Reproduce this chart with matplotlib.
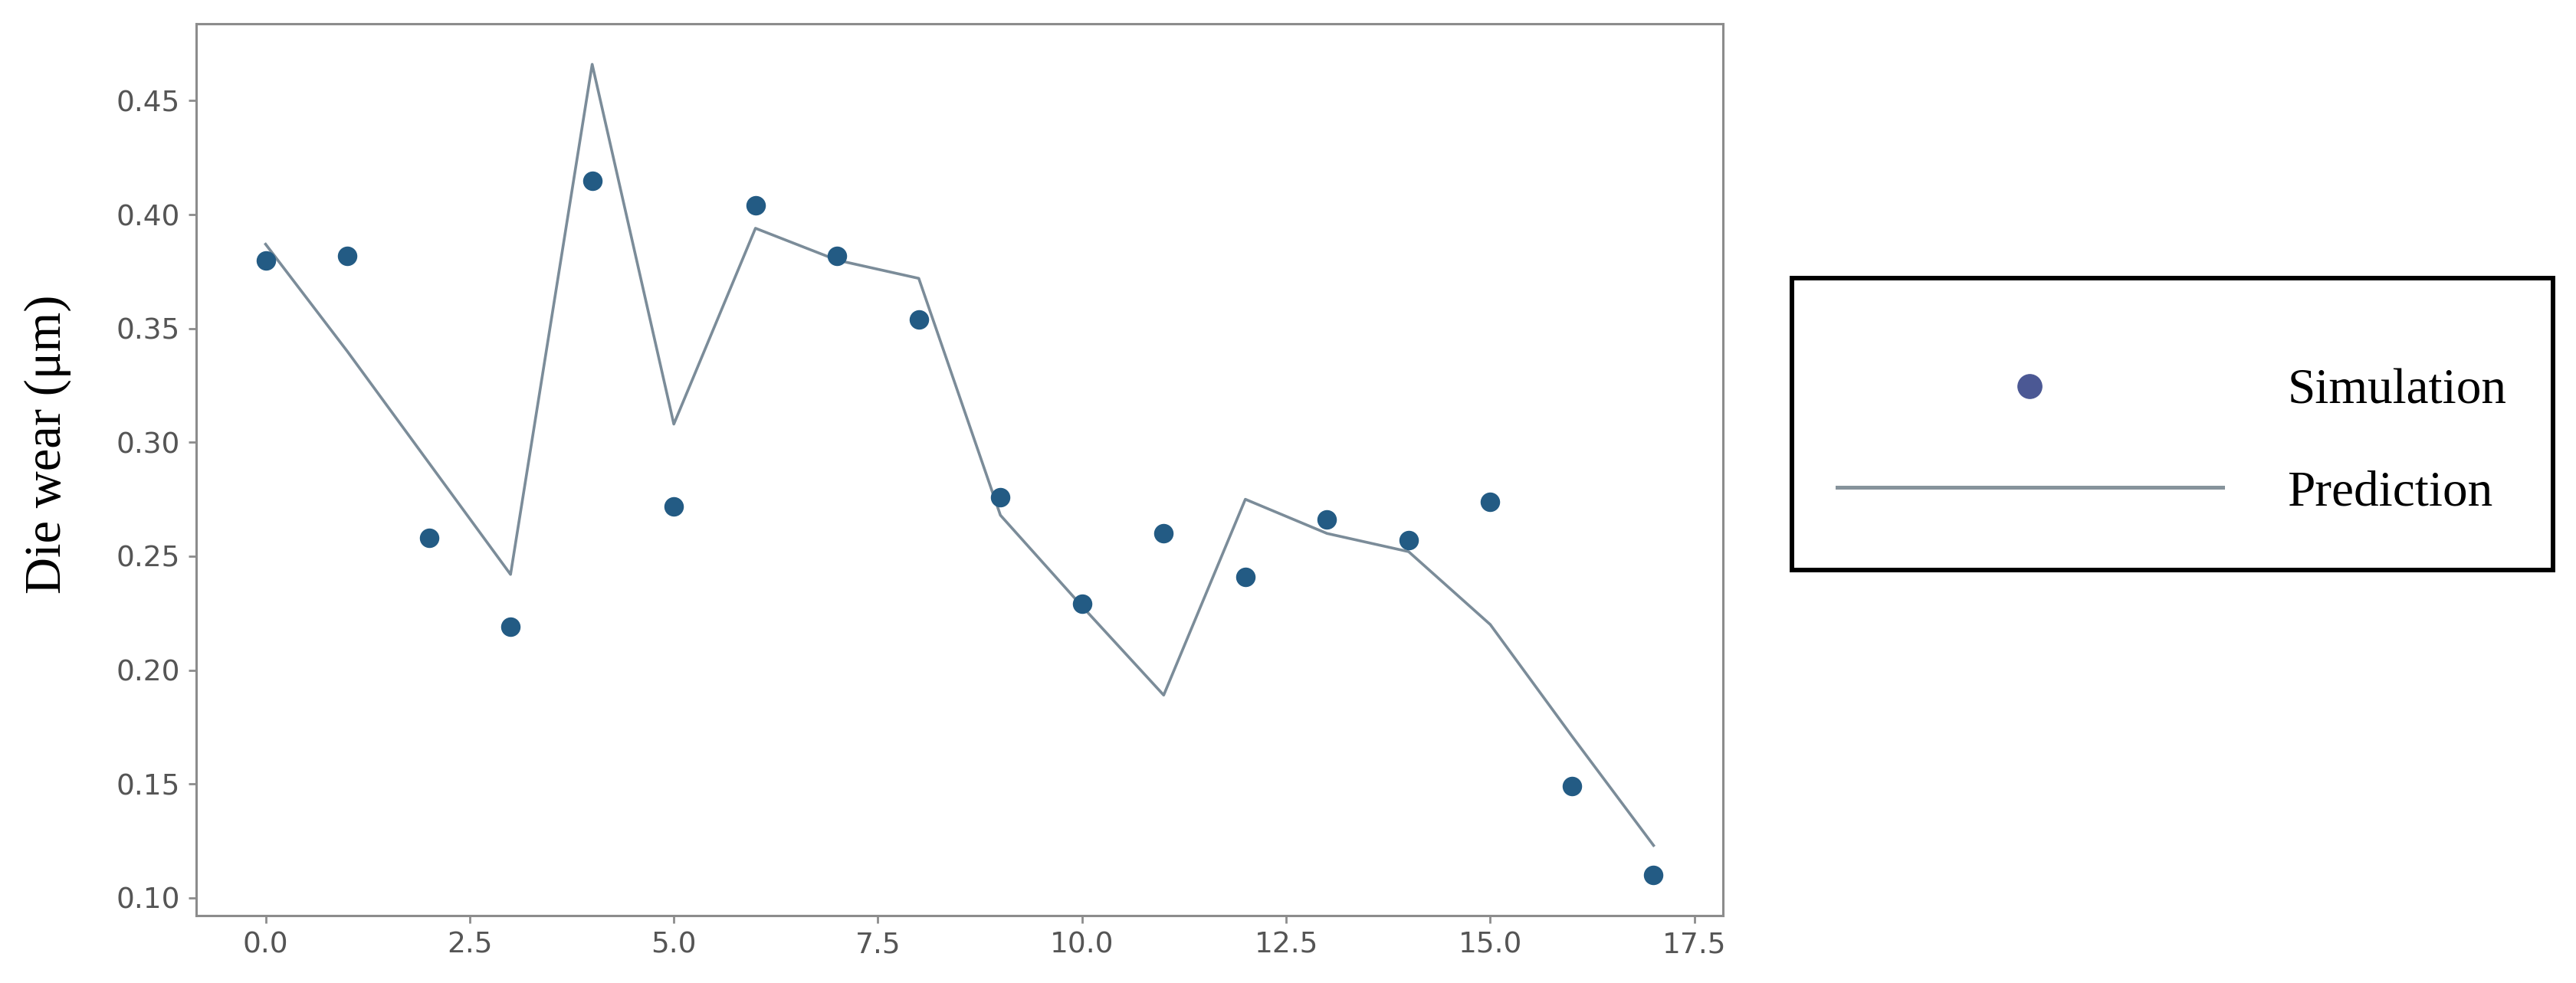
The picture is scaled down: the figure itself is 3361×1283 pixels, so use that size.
import numpy as np
import matplotlib
matplotlib.use("Agg")
import matplotlib.pyplot as plt
from matplotlib.patches import Rectangle

# values
sample = np.arange(18)
simulation = [0.380, 0.382, 0.258, 0.219, 0.415, 0.272, 0.404, 0.382, 0.354,
              0.276, 0.229, 0.260, 0.241, 0.266, 0.257, 0.274, 0.149, 0.110]
prediction = [0.387, 0.340, 0.291, 0.242, 0.466, 0.308, 0.394, 0.380, 0.372,
              0.268, 0.228, 0.189, 0.275, 0.260, 0.252, 0.220, 0.171, 0.123]
labels = ["Simulation", "Prediction"]
ylabel = "Die wear (\u03bcm)"

W, H = 3361, 1283
fig = plt.figure(figsize=(W / 100, H / 100), dpi=100)
ax = fig.add_axes([256 / W, 1 - 1195 / H, (2248 - 256) / W, (1195 - 31) / H])

sc = ax.scatter(sample, simulation, s=300, color="#235b84", zorder=3, label=labels[0])
ln, = ax.plot(sample, prediction, color="#7b8c99", lw=2.6, zorder=2, label=labels[1])

for side in ax.spines.values():
    side.set_color("#8c8c8c")
    side.set_linewidth(2.2)
ax.tick_params(axis="both", length=7, width=2, color="#8c8c8c",
               labelsize=27, labelcolor="#555555", pad=8)

fig.text(62 / W, 1 - 580 / H, ylabel, rotation=90, ha="center", va="center",
         fontsize=48, family="Liberation Serif", color="black")

# legend box drawn on the figure, entries placed inside
box = Rectangle((2338 / W, 1 - 744 / H), (3331 - 2338) / W, (744 - 363) / H,
                transform=fig.transFigure, facecolor="white", edgecolor="black",
                linewidth=4.3, zorder=1)
fig.patches.append(box)

leg = fig.legend([sc, ln], labels, loc="center left",
                 bbox_to_anchor=(2397 / W, 1 - 577 / H), frameon=False,
                 borderpad=0, borderaxespad=0, handlelength=7.7, handletextpad=1.3,
                 labelspacing=1.12, scatteryoffsets=[0.5], markerscale=1.3,
                 prop={"family": "Liberation Serif", "size": 47})
leg.legend_handles[0].set_color("#4b5894")
leg.legend_handles[1].set_linewidth(3.6)
leg.legend_handles[1].set_color("#86939b")
leg.set_zorder(5)

fig.savefig("out.png", dpi=100, facecolor="white")
